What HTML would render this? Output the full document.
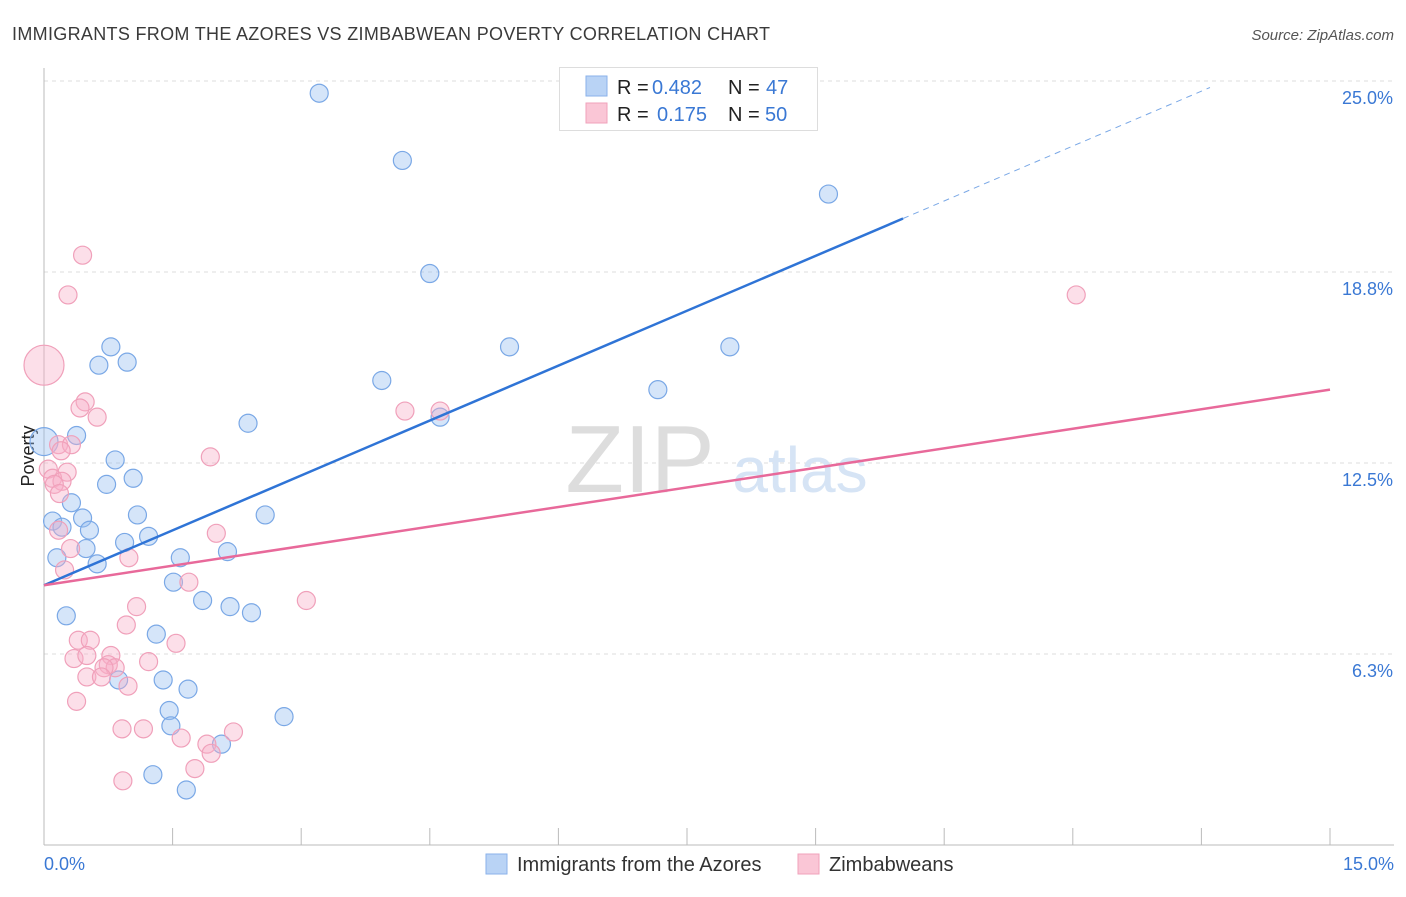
<!DOCTYPE html>
<html><head><meta charset="utf-8">
<style>
body{margin:0;background:#fff;font-family:"Liberation Sans",sans-serif;}
svg text{font-family:"Liberation Sans",sans-serif;}
</style></head>
<body>
<svg id="chart" width="1406" height="892" xmlns="http://www.w3.org/2000/svg">
<text x="12" y="40" font-size="18" fill="#3a3a3a" textLength="758">IMMIGRANTS FROM THE AZORES VS ZIMBABWEAN POVERTY CORRELATION CHART</text>
<text x="1394" y="40" font-size="15" fill="#555" font-style="italic" text-anchor="end">Source: ZipAtlas.com</text>
<g id="grid"></g>
<text x="640" y="492" font-size="96" fill="#ddd" font-family="Liberation Serif" text-anchor="middle">ZIP</text>
<text x="800" y="492" font-size="64" fill="#d6e4f5" text-anchor="middle">atlas</text>
<line x1="44" y1="68" x2="44" y2="845" stroke="#bbb"/>
<line x1="44" y1="845" x2="1394" y2="845" stroke="#bbb"/>
<g id="xticks"></g>
<g id="ylabels"></g>
<text x="44" y="870" font-size="18" fill="#3a78d4">0.0%</text>
<text x="1394" y="870" font-size="18" fill="#3a78d4" text-anchor="end">15.0%</text>
<text transform="translate(34,456) rotate(-90)" font-size="18" fill="#222" text-anchor="middle">Poverty</text>
<g id="pts"></g>
<g id="lines"></g>
<g>
<rect x="559.5" y="67.5" width="258" height="63" fill="#fff" stroke="#ddd"/>
<rect x="586" y="76" width="21" height="20" fill="#b9d3f5" stroke="#8ab2ea"/>
<rect x="586" y="103" width="21" height="20" fill="#fac6d6" stroke="#f0a2bb"/>
<text x="617" y="94" font-size="20" fill="#222">R = <tspan fill="#3a78d4" x="652">0.482</tspan><tspan x="728">N = </tspan><tspan fill="#3a78d4" x="766">47</tspan></text>
<text x="617" y="121" font-size="20" fill="#222">R = <tspan fill="#3a78d4" x="657">0.175</tspan><tspan x="728">N = </tspan><tspan fill="#3a78d4" x="765">50</tspan></text>
</g>
<g>
<rect x="486" y="854" width="21" height="20" fill="#b9d3f5" stroke="#8ab2ea"/>
<text x="517" y="871" font-size="20" fill="#333">Immigrants from the Azores</text>
<rect x="798" y="854" width="21" height="20" fill="#fac6d6" stroke="#f0a2bb"/>
<text x="829" y="871" font-size="20" fill="#333">Zimbabweans</text>
</g>
</svg>
<script>
const yTicks=[6.25,12.5,18.75,25];
const yTickLabels=["6.3%","12.5%","18.8%","25.0%"];
const azoresX=[3.21,4.18,9.15,4.50,5.43,8.00,0.78,0.64,0.97,3.94,7.16,4.62,2.38,0.38,0.0,0.83,1.04,0.73,0.32,1.09,2.58,0.10,0.45,0.21,0.53,0.94,1.22,0.49,0.15,1.59,2.14,0.62,1.51,1.85,2.17,2.42,0.26,1.31,0.87,1.39,1.68,1.46,1.48,2.80,2.07,1.27,1.66];
const azoresY=[24.6,22.4,21.3,18.7,16.3,16.3,16.3,15.7,15.8,15.2,14.9,14.0,13.8,13.4,13.2,12.6,12.0,11.8,11.2,10.8,10.8,10.6,10.7,10.4,10.3,9.9,10.1,9.7,9.4,9.4,9.6,9.2,8.6,8.0,7.8,7.6,7.5,6.9,5.4,5.4,5.1,4.4,3.9,4.2,3.3,2.3,1.8];
const zimX=[0.45,0.28,12.04,0.0,0.48,0.42,0.62,4.21,4.62,0.17,0.32,0.20,1.94,0.27,0.05,0.10,0.21,0.12,0.18,2.01,0.17,0.31,0.99,0.24,1.69,3.06,1.08,0.96,0.40,0.54,1.54,0.35,0.50,0.78,1.22,0.75,0.83,0.70,0.50,0.67,0.98,0.38,0.91,1.16,2.21,1.60,1.90,1.95,1.76,0.92];
const zimY=[19.3,18.0,18.0,15.7,14.5,14.3,14.0,14.2,14.2,13.1,13.1,12.9,12.7,12.2,12.3,12.0,11.9,11.8,11.5,10.2,10.3,9.7,9.4,9.0,8.6,8.0,7.8,7.2,6.7,6.7,6.6,6.1,6.2,6.2,6.0,5.9,5.8,5.8,5.5,5.5,5.2,4.7,3.8,3.8,3.7,3.5,3.3,3.0,2.5,2.1];
const blueLine=[0,8.5,10.02,20.5];
const pinkLine=[0,8.5,15,14.9];
const X0=44,X1=1330,Y0=845,PY=30.56;
function xs(v){return X0+(v/15)*(X1-X0);}
function ys(v){return Y0-v*PY;}
const NS="http://www.w3.org/2000/svg";
function mk(t,a,p){const e=document.createElementNS(NS,t);for(const k in a)e.setAttribute(k,a[k]);p.appendChild(e);return e;}
const grid=document.getElementById('grid'),yl=document.getElementById('ylabels');
yTicks.forEach((t,i)=>{
 const l=mk('line',{x1:44,x2:1394,y1:ys(t),y2:ys(t),stroke:'#ddd','stroke-dasharray':'4,4'},grid);
 
 
 const tx=mk('text',{x:1393,y:ys(t)+23,'font-size':18,fill:'#3a78d4','text-anchor':'end'},yl);
 tx.textContent=yTickLabels[i];
 
 
});
const xt=document.getElementById('xticks');
for(let i=0;i<=10;i++){const x=xs(i*1.5);const l=mk('line',{x1:x,x2:x,y1:828,y2:845,stroke:'#bbb'},xt);
 
 }
const pts=document.getElementById('pts');
azoresX.forEach((x,i)=>{const big=(x===0);const c=mk('circle',{cx:xs(x),cy:ys(azoresY[i]),r:big?14:9,fill:'rgba(150,190,240,0.4)',stroke:'#7aa8e6','stroke-width':1.2},pts);
 
 });
zimX.forEach((x,i)=>{const big=(x===0);const c=mk('circle',{cx:xs(x),cy:ys(zimY[i]),r:big?20:9,fill:'rgba(248,175,200,0.4)',stroke:'#f0a0ba','stroke-width':1.2},pts);
 
 });
const ln=document.getElementById('lines');
const bl=mk('line',{x1:xs(blueLine[0]),y1:ys(blueLine[1]),x2:xs(blueLine[2]),y2:ys(blueLine[3]),stroke:'#2f74d6','stroke-width':2.5},ln);


const slope=(blueLine[3]-blueLine[1])/(blueLine[2]-blueLine[0]);
const xe=13.6;
const bd=mk('line',{x1:xs(blueLine[2]),y1:ys(blueLine[3]),x2:xs(xe),y2:ys(blueLine[1]+slope*xe),stroke:'#7aa8e6','stroke-width':1,'stroke-dasharray':'6,5'},ln);


const pl=mk('line',{x1:xs(pinkLine[0]),y1:ys(pinkLine[1]),x2:xs(pinkLine[2]),y2:ys(pinkLine[3]),stroke:'#e8699a','stroke-width':2.5},ln);


</script>
</body></html>
